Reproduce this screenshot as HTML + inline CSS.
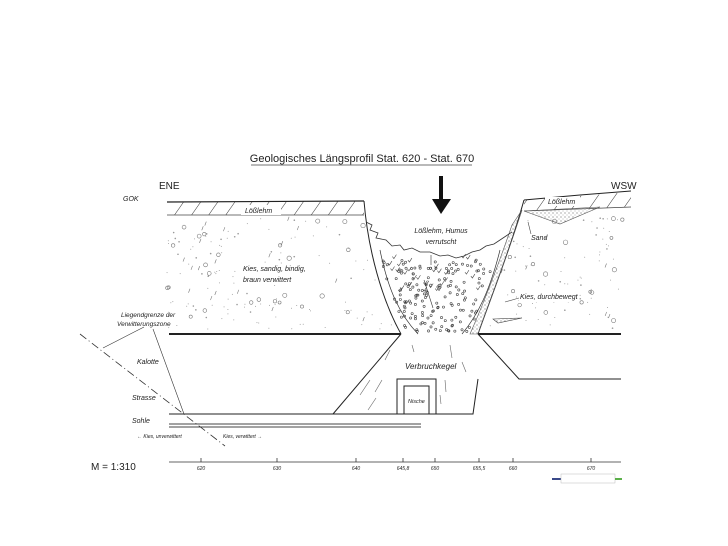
<!DOCTYPE html>
<html><head><meta charset="utf-8"><style>
html,body{margin:0;padding:0;background:#fff;}
svg{display:block;}
text{font-family:"Liberation Sans",sans-serif;font-style:italic;fill:#222;}
</style></head><body>
<svg id="s" width="728" height="546" viewBox="0 0 728 546" xmlns="http://www.w3.org/2000/svg">
<defs>
<pattern id="hatch" width="14" height="14" patternUnits="userSpaceOnUse" patternTransform="rotate(35)">
<line x1="0" y1="0" x2="0" y2="14" stroke="#333" stroke-width="1"/>
</pattern>
<pattern id="stip" width="4" height="4" patternUnits="userSpaceOnUse">
<circle cx="1" cy="1" r="0.6" fill="#777"/><circle cx="3" cy="3" r="0.5" fill="#999"/>
</pattern>
</defs>
<text x="362" y="162" font-size="11" text-anchor="middle" style="font-style:normal" fill="#333">Geologisches  Längsprofil  Stat. 620  -  Stat. 670</text>
<line x1="251" y1="165" x2="472" y2="165" stroke="#444" stroke-width="0.8"/>
<text x="159" y="189" font-size="10" style="font-style:normal">ENE</text>
<text x="611" y="189" font-size="10" style="font-style:normal">WSW</text>
<text x="123" y="201" font-size="7">GOK</text>

<polygon points="167,202 364,201 364,215 167,215" fill="url(#hatch)"/>
<polyline points="167,202 364,201" fill="none" stroke="#222" stroke-width="1.2"/>
<line x1="167" y1="215" x2="364" y2="215" stroke="#444" stroke-width="0.8"/>
<rect x="241" y="205" width="40" height="10" fill="#fff"/>
<text x="245" y="213" font-size="7">Lößlehm</text>
<polygon points="524,200 631,192 631,207 524,211" fill="url(#hatch)"/>
<polyline points="524,200 580,195 631,191" fill="none" stroke="#222" stroke-width="1"/>
<line x1="524" y1="211" x2="631" y2="207" stroke="#444" stroke-width="0.8"/>
<rect x="545" y="197" width="35" height="9" fill="#fff"/>
<text x="548" y="204" font-size="7">Lößlehm</text>
<polygon points="524,211 600,207 560,224" fill="url(#stip)" stroke="#555" stroke-width="0.6"/>
<line x1="528" y1="222" x2="531" y2="234" stroke="#444" stroke-width="0.6"/>
<text x="531" y="240" font-size="7">Sand</text>

<rect x="439" y="176" width="4" height="24" fill="#111"/>
<polygon points="432,199 451,199 441,214" fill="#111"/>

<g id="gravel"></g>

<path d="M364,201 C368,250 382,300 401,334" fill="none" stroke="#222" stroke-width="1"/>
<path d="M524,200 C510,250 490,300 478,334" fill="none" stroke="#222" stroke-width="1"/>
<path d="M512,225 C500,260 485,300 470,334 L478,334 C490,300 506,260 522,210 Z" fill="url(#stip)" stroke="#555" stroke-width="0.6"/>
<polyline points="366,222 372,225 370,230 378,233 376,238 386,240 392,246 400,245 404,250 412,248 420,252 430,252 440,256 448,255 456,258 464,256 472,252 480,250 486,246 494,244 500,240 506,236 512,232" fill="none" stroke="#333" stroke-width="0.8"/>
<path d="M380,250 C388,290 400,315 418,334" fill="none" stroke="#333" stroke-width="0.7"/>
<path d="M500,250 C490,290 478,315 462,334" fill="none" stroke="#333" stroke-width="0.7"/>
<line x1="431" y1="255" x2="431" y2="265" stroke="#333" stroke-width="0.6"/>
<line x1="424" y1="280" x2="433" y2="308" stroke="#333" stroke-width="0.6"/>
<polygon points="493,319 522,318 498,323" fill="url(#stip)" stroke="#444" stroke-width="0.6"/>
<rect x="413" y="226" width="56" height="21" fill="#fff"/>
<text x="441" y="233" font-size="7" text-anchor="middle">Lößlehm, Humus</text>
<text x="441" y="244" font-size="7" text-anchor="middle">verrutscht</text>
<rect x="240" y="264" width="82" height="21" fill="#fff"/>
<text x="243" y="271" font-size="7">Kies, sandig, bindig,</text>
<text x="243" y="282" font-size="7">braun verwittert</text>
<line x1="505" y1="302" x2="519" y2="298" stroke="#444" stroke-width="0.6"/>
<rect x="519" y="293" width="60" height="9" fill="#fff"/>
<text x="520" y="299" font-size="7">Kies, durchbewegt</text>

<line x1="169" y1="334" x2="401" y2="334" stroke="#222" stroke-width="2"/>
<line x1="478" y1="334" x2="621" y2="334" stroke="#222" stroke-width="2"/>
<polyline points="401,334 333,414" fill="none" stroke="#222" stroke-width="1"/>
<polyline points="478,334 519,379 621,379" fill="none" stroke="#222" stroke-width="1"/>
<polyline points="478,379 473,414 169,414" fill="none" stroke="#222" stroke-width="1"/>
<rect x="397" y="379" width="39" height="35" fill="#fff" stroke="#222" stroke-width="1"/>
<polyline points="404,414 404,386 429,386 429,414" fill="none" stroke="#222" stroke-width="1"/>
<text x="408" y="403" font-size="5.5">Nische</text>
<text x="405" y="369" font-size="8">Verbruchkegel</text>
<g stroke="#666" stroke-width="0.6">
<line x1="360" y1="395" x2="370" y2="380"/><line x1="375" y1="392" x2="382" y2="380"/><line x1="385" y1="360" x2="390" y2="350"/>
<line x1="450" y1="345" x2="452" y2="358"/><line x1="462" y1="362" x2="466" y2="372"/><line x1="445" y1="380" x2="446" y2="392"/>
<line x1="368" y1="410" x2="376" y2="398"/><line x1="440" y1="395" x2="441" y2="404"/><line x1="412" y1="345" x2="414" y2="352"/>
</g>
<line x1="169" y1="424" x2="421" y2="424" stroke="#444" stroke-width="1"/>
<line x1="169" y1="427" x2="421" y2="427" stroke="#444" stroke-width="1"/>
<line x1="80" y1="334" x2="225" y2="446" stroke="#333" stroke-width="0.8" stroke-dasharray="8,3,1,3"/>
<line x1="144" y1="327" x2="103" y2="348" stroke="#333" stroke-width="0.6"/>
<line x1="153" y1="329" x2="184" y2="414" stroke="#333" stroke-width="0.6"/>
<text x="121" y="317" font-size="6.5">Liegendgrenze der</text>
<text x="117" y="326" font-size="6.5">Verwitterungszone</text>
<text x="137" y="364" font-size="7">Kalotte</text>
<text x="132" y="400" font-size="7">Strasse</text>
<text x="132" y="423" font-size="7">Sohle</text>
<text x="137" y="438" font-size="5">← Kies, unverwittert</text>
<text x="223" y="438" font-size="5">Kies, verwittert →</text>

<line x1="169" y1="462" x2="621" y2="462" stroke="#333" stroke-width="0.8"/>
<g stroke="#333" stroke-width="0.8">
<line x1="201" y1="458" x2="201" y2="462"/><line x1="277" y1="458" x2="277" y2="462"/><line x1="356" y1="458" x2="356" y2="462"/><line x1="403" y1="458" x2="403" y2="462"/><line x1="435" y1="458" x2="435" y2="462"/><line x1="479" y1="458" x2="479" y2="462"/><line x1="513" y1="458" x2="513" y2="462"/><line x1="591" y1="458" x2="591" y2="462"/>
</g>
<g font-size="5" text-anchor="middle">
<text x="201" y="470">620</text><text x="277" y="470">630</text><text x="356" y="470">640</text><text x="403" y="470">645,8</text><text x="435" y="470">650</text><text x="479" y="470">655,5</text><text x="513" y="470">660</text><text x="591" y="470">670</text>
</g>
<text x="91" y="470" font-size="10" style="font-style:normal" fill="#111">M = 1:310</text>
<rect x="552" y="478" width="9" height="2" fill="#3a4a8a"/>
<rect x="561" y="474" width="54" height="9" fill="#fff" stroke="#bbb" stroke-width="0.5"/>
<rect x="615" y="478" width="7" height="2" fill="#5bb04a"/>
</svg>
<script>
(function(){
var g=document.getElementById('gravel'),ns='http://www.w3.org/2000/svg';
var seed=7;function r(){seed=(seed*9301+49297)%233280;return seed/233280;}
function inCrater(x,y){ if(y<200)return true;
 var t=(y-200)/134; var l=364+37*t*t, rr=524-46*t; return x>l-2&&x<rr+2;}
for(var i=0;i<360;i++){
 var x=167+r()*456,y=218+r()*112;
 if(x>520&&y<212)continue;
 if(inCrater(x,y))continue;
 var k=r(),e;
 if(k<0.15){e=document.createElementNS(ns,'circle');e.setAttribute('cx',x);e.setAttribute('cy',y);e.setAttribute('r',1.5+r()*0.8);e.setAttribute('fill','none');e.setAttribute('stroke','#777');e.setAttribute('stroke-width','0.6');}
 else if(k<0.23){e=document.createElementNS(ns,'line');e.setAttribute('x1',x);e.setAttribute('y1',y);e.setAttribute('x2',x+1.5);e.setAttribute('y2',y-4);e.setAttribute('stroke','#777');e.setAttribute('stroke-width','0.6');}
 else {e=document.createElementNS(ns,'circle');e.setAttribute('cx',x);e.setAttribute('cy',y);e.setAttribute('r',k<0.4?0.8:0.5);e.setAttribute('fill','#999');}
 g.appendChild(e);}
for(var j=0;j<160;j++){
 var y=260+r()*72,t=(y-200)/134,l=364+37*t*t+8,rr=524-46*t-8;
 var x=l+r()*(rr-l);
 var e=document.createElementNS(ns,'circle');e.setAttribute('cx',x);e.setAttribute('cy',y);e.setAttribute('r',1.1);e.setAttribute('fill','none');e.setAttribute('stroke','#444');e.setAttribute('stroke-width','0.6');g.appendChild(e);}
for(var m=0;m<30;m++){
 var y=255+r()*35,t=(y-200)/134,l=364+37*t*t+15,rr=524-46*t-15;
 var x=l+r()*(rr-l);
 var p=document.createElementNS(ns,'path');p.setAttribute('d','M'+x+','+y+' l1.5,2 l2.5,-4');p.setAttribute('fill','none');p.setAttribute('stroke','#444');p.setAttribute('stroke-width','0.6');g.appendChild(p);}
})();
</script>
</body></html>
